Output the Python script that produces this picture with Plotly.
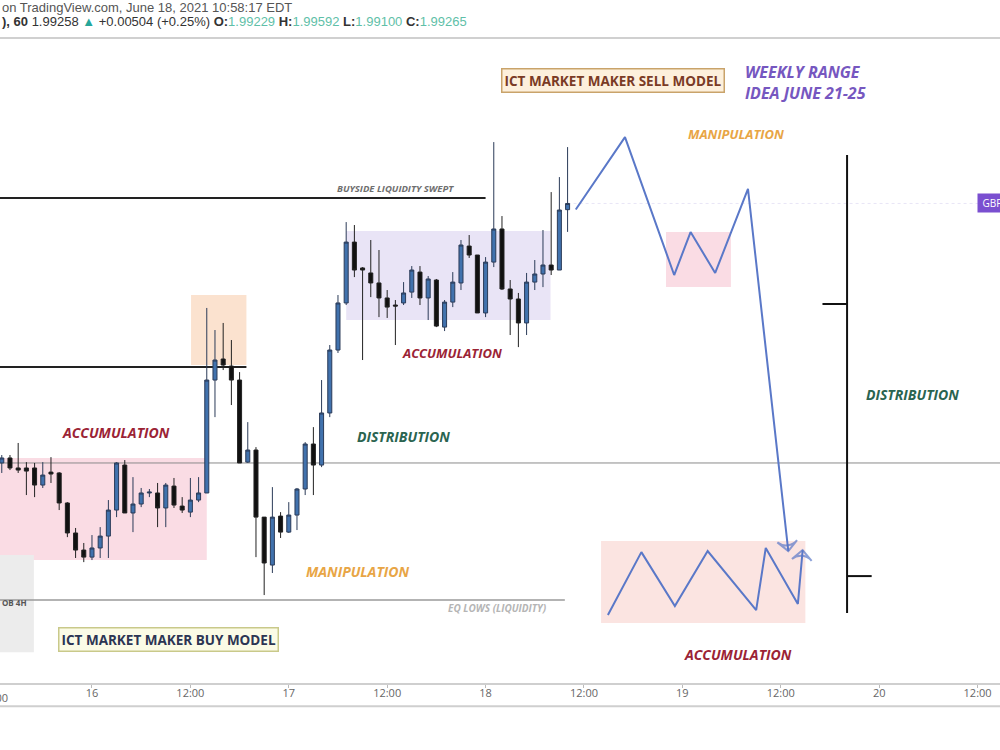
import plotly.graph_objects as go
import pandas as pd

# ---------------- data ----------------
times = pd.date_range("2021-06-15 13:00", periods=70, freq="h")

open_ = [1.97760, 1.97789, 1.97731, 1.97731, 1.97731, 1.97632, 1.97707, 1.97702, 1.97528, 1.97354,
         1.97255, 1.97214, 1.97267, 1.97336, 1.97487, 1.97748, 1.97470, 1.97522, 1.97586, 1.97586,
         1.97499, 1.97626, 1.97510, 1.97475, 1.97545, 1.97586, 1.98241, 1.98363, 1.98322, 1.98241,
         1.97765, 1.97835, 1.97446, 1.97168, 1.97452, 1.97359, 1.97458, 1.97609, 1.97870, 1.97748,
         1.98050, 1.98415, 1.98688, 1.99041, 1.98891, 1.98862, 1.98804, 1.98717, 1.98676, 1.98688,
         1.98751, 1.98867, 1.98717, 1.98821, 1.98548, 1.98693, 1.98804, 1.99018, 1.98966, 1.98630,
         1.98925, 1.99117, 1.98769, 1.98711, 1.98572, 1.98809, 1.98856, 1.98908, 1.98879, 1.99229]
high = [1.97806, 1.97806, 1.97876, 1.97765, 1.97760, 1.97765, 1.97794, 1.97707, 1.97533, 1.97383,
        1.97296, 1.97342, 1.97388, 1.97545, 1.97765, 1.97777, 1.97678, 1.97615, 1.97609, 1.97644,
        1.97644, 1.97673, 1.97562, 1.97673, 1.97678, 1.98659, 1.98531, 1.98572, 1.98473, 1.98287,
        1.97997, 1.97852, 1.97446, 1.97620, 1.97475, 1.97533, 1.97615, 1.97881, 1.97968, 1.98241,
        1.98444, 1.98734, 1.99157, 1.99140, 1.98896, 1.99053, 1.98995, 1.98763, 1.98705, 1.98809,
        1.98902, 1.98902, 1.98844, 1.98827, 1.98705, 1.98867, 1.99053, 1.99082, 1.98966, 1.98954,
        1.99621, 1.99192, 1.98821, 1.98746, 1.98862, 1.98937, 1.99111, 1.99331, 1.99418, 1.99592]
low = [1.97702, 1.97719, 1.97702, 1.97574, 1.97562, 1.97615, 1.97644, 1.97487, 1.97330, 1.97209,
       1.97185, 1.97197, 1.97209, 1.97209, 1.97446, 1.97470, 1.97359, 1.97504, 1.97562, 1.97388,
       1.97388, 1.97499, 1.97470, 1.97446, 1.97533, 1.97586, 1.98026, 1.98299, 1.98096, 1.97760,
       1.97760, 1.97214, 1.96994, 1.97122, 1.97325, 1.97354, 1.97371, 1.97574, 1.97574, 1.97736,
       1.98026, 1.98398, 1.98676, 1.98838, 1.98357, 1.98722, 1.98606, 1.98601, 1.98444, 1.98676,
       1.98717, 1.98676, 1.98589, 1.98548, 1.98525, 1.98664, 1.98763, 1.98949, 1.98630, 1.98606,
       1.98896, 1.98763, 1.98502, 1.98432, 1.98502, 1.98763, 1.98780, 1.98850, 1.98879, 1.99100]
close = [1.97789, 1.97731, 1.97719, 1.97713, 1.97632, 1.97690, 1.97696, 1.97528, 1.97354, 1.97255,
         1.97214, 1.97267, 1.97336, 1.97487, 1.97760, 1.97470, 1.97522, 1.97586, 1.97591, 1.97499,
         1.97632, 1.97516, 1.97487, 1.97545, 1.97586, 1.98241, 1.98357, 1.98328, 1.98241, 1.97760,
         1.97835, 1.97446, 1.97180, 1.97446, 1.97359, 1.97458, 1.97609, 1.97870, 1.97748, 1.98050,
         1.98415, 1.98688, 1.99041, 1.98879, 1.98879, 1.98804, 1.98717, 1.98664, 1.98670, 1.98746,
         1.98879, 1.98717, 1.98827, 1.98554, 1.98693, 1.98809, 1.99024, 1.98966, 1.98630, 1.98925,
         1.99117, 1.98769, 1.98711, 1.98572, 1.98809, 1.98856, 1.98908, 1.98879, 1.99227, 1.99265]

# zones: (start, end, bottom, top, fill)
zones = [
    ("2021-06-15 12:00", "2021-06-16 14:00", 1.97197, 1.97789, "#fadce4"),
    ("2021-06-16 12:05", "2021-06-16 18:50", 1.98328, 1.98734, "#fbe2cf"),
    ("2021-06-17 07:00", "2021-06-18 07:55", 1.98589, 1.99105, "#e9e4f6"),
    ("2021-06-18 22:00", "2021-06-19 05:55", 1.98780, 1.99099, "#fadce4"),
    ("2021-06-18 14:05", "2021-06-19 15:00", 1.96832, 1.97307, "#fbe4e1"),
    ("2021-06-15 12:00", "2021-06-15 16:55", 1.96663, 1.97226, "#ececec"),
]

# horizontal levels: (start, end, price, color, width)
levels = [
    ("2021-06-15 12:00", "2021-06-18 00:00", 1.99297, "#222222", 2),
    ("2021-06-15 12:00", "2021-06-16 18:50", 1.98316, "#222222", 2),
    ("2021-06-15 12:00", "2021-06-20 16:00", 1.97760, "#8a8a8a", 1),
    ("2021-06-15 12:00", "2021-06-18 09:40", 1.96965, "#9a9a9a", 1.5),
]

# projected path (sell model) and accumulation zigzag
proj_t = ["2021-06-18 11:00", "2021-06-18 17:00", "2021-06-18 23:00", "2021-06-19 01:00",
          "2021-06-19 04:00", "2021-06-19 08:00", "2021-06-19 12:55"]
proj_p = [1.99230, 1.99650, 1.98850, 1.99099, 1.98862, 1.99349, 1.97249]
zig_t = ["2021-06-18 14:55", "2021-06-18 19:00", "2021-06-18 23:05", "2021-06-19 03:05",
         "2021-06-19 09:00", "2021-06-19 10:10", "2021-06-19 14:05", "2021-06-19 14:40"]
zig_p = [1.96878, 1.97243, 1.96930, 1.97249, 1.96907, 1.97267, 1.96942, 1.97255]

# weekly range bar (open, high, low, close)
week_t = pd.Timestamp("2021-06-19 20:05")
week_open, week_high, week_low, week_close = 1.98682, 1.99546, 1.96890, 1.97104

tick_vals = ["2021-06-16 00:00", "2021-06-16 12:00", "2021-06-17 00:00", "2021-06-17 12:00",
             "2021-06-18 00:00", "2021-06-18 12:00", "2021-06-19 00:00", "2021-06-19 12:00",
             "2021-06-20 00:00", "2021-06-20 12:00"]
tick_text = ["16", "12:00", "17", "12:00", "18", "12:00", "19", "12:00", "20", "12:00"]

# ---------------- figure ----------------
fig = go.Figure()

fig.add_trace(go.Candlestick(
    x=times, open=open_, high=high, low=low, close=close,
    increasing=dict(fillcolor="#4172ad", line=dict(color="#2b3b58", width=1)),
    decreasing=dict(fillcolor="#111111", line=dict(color="#222222", width=1)),
    whiskerwidth=0, showlegend=False, hoverinfo="skip"))

blue = "#5a78c8"
for tt, pp in ((proj_t, proj_p), (zig_t, zig_p)):
    fig.add_trace(go.Scatter(
        x=tt, y=pp, mode="lines+markers",
        line=dict(color=blue, width=2),
        marker=dict(symbol="arrow-wide-open", size=[0] * (len(tt) - 1) + [14],
                    angleref="previous", color=blue, line=dict(color=blue, width=2)),
        showlegend=False, hoverinfo="skip"))

dt = pd.Timedelta(hours=3)
fig.add_trace(go.Scatter(
    x=[week_t, week_t, None, week_t - dt, week_t, None, week_t, week_t + dt],
    y=[week_high, week_low, None, week_open, week_open, None, week_close, week_close],
    mode="lines", line=dict(color="#111111", width=2),
    showlegend=False, hoverinfo="skip"))

shapes = []
for x0, x1, y0, y1, c in zones:
    shapes.append(dict(type="rect", xref="x", yref="y", x0=x0, x1=x1, y0=y0, y1=y1,
                       fillcolor=c, line=dict(width=0), layer="below"))
for x0, x1, y, c, w in levels:
    shapes.append(dict(type="line", xref="x", yref="y", x0=x0, x1=x1, y0=y, y1=y,
                       line=dict(color=c, width=w), layer="below"))
# faint last-price line
shapes.append(dict(type="line", xref="x", yref="y", x0=times[-1], x1="2021-06-20 16:00",
                   y0=close[-1], y1=close[-1],
                   line=dict(color="rgba(130,110,200,0.18)", width=1, dash="dot"), layer="below"))
# header separator and bottom axis border
shapes.append(dict(type="line", xref="paper", yref="paper", x0=0, x1=1, y0=1.003, y1=1.003,
                   line=dict(color="#d0d0d0", width=2)))
shapes.append(dict(type="line", xref="paper", yref="paper", x0=0, x1=1, y0=-0.036, y1=-0.036,
                   line=dict(color="#cfcfcf", width=2)))

F = "Open Sans"
red = "#9b2335"
green = "#2a6450"
orange = "#e8a545"


def lab(x, y, text, color, size=14, **kw):
    d = dict(x=x, y=y, xref="x", yref="y", text=text, showarrow=False,
             font=dict(family=F, size=size, color=color, weight="bold", style="italic"))
    d.update(kw)
    return d


annotations = [
    lab("2021-06-16 02:54", 1.97939, "ACCUMULATION", red),
    lab("2021-06-17 14:00", 1.97916, "DISTRIBUTION", green),
    lab("2021-06-17 08:24", 1.97133, "MANIPULATION", orange),
    lab("2021-06-17 19:54", 1.98398, "ACCUMULATION", red, size=13),
    lab("2021-06-19 06:30", 1.99668, "MANIPULATION", orange, size=13),
    lab("2021-06-20 04:06", 1.98160, "DISTRIBUTION", green),
    lab("2021-06-19 06:48", 1.96652, "ACCUMULATION", red),
    lab("2021-06-19 07:24", 1.99969, "WEEKLY RANGE<br>IDEA JUNE 21-25", "#7657c0", size=16,
        xanchor="left", align="left"),
    lab("2021-06-17 13:00", 1.99349, "BUYSIDE LIQUIDITY SWEPT", "#6f6f6f", size=9.5),
    lab("2021-06-18 01:24", 1.96919, "EQ LOWS (LIQUIDITY)", "#b5b5b5", size=10),
    dict(x="2021-06-15 14:36", y=1.96948, xref="x", yref="y", text="OB 4H", showarrow=False,
         font=dict(family=F, size=8, color="#555555", weight="bold")),
    dict(x="2021-06-16 09:18", y=1.96739, xref="x", yref="y", text="ICT MARKET MAKER BUY MODEL",
         showarrow=False, bgcolor="#fbfbe6", bordercolor="#c9c98a", borderwidth=1.5, borderpad=2,
         font=dict(family=F, size=13.5, color="#2c3553", weight="bold")),
    dict(x="2021-06-18 15:30", y=1.99981, xref="x", yref="y", text="ICT MARKET MAKER SELL MODEL",
         showarrow=False, bgcolor="#fdf0dc", bordercolor="#c9a36a", borderwidth=1.5, borderpad=2,
         font=dict(family=F, size=13.5, color="#7a3b25", weight="bold")),
    dict(x=0.977, y=close[-1], xref="paper", yref="y", text=" GBPNZD ", showarrow=False,
         xanchor="left", bgcolor="#7a4fd0", font=dict(family=F, size=10, color="white"),
         borderpad=2),
    dict(x=-0.006, y=-0.008, xref="paper", yref="paper", text="12:00", showarrow=False,
         xanchor="center", yanchor="top", font=dict(family=F, size=11, color="#666666")),
    dict(x=0.0, y=1.0498, xref="paper", yref="paper", xanchor="left", yanchor="middle",
         showarrow=False, text="on TradingView.com, June 18, 2021 10:58:17 EDT",
         font=dict(family="Liberation Sans", size=13, color="#555555")),
    dict(x=0.0, y=1.028, xref="paper", yref="paper", xanchor="left", yanchor="middle",
         showarrow=False,
         text=("<b>), 60</b> 1.99258 <span style='color:#26a69a'>\u25b2</span> +0.00504 (+0.25%) "
               "<b>O:</b><span style='color:#5fbfa8'>1.99229</span> "
               "<b>H:</b><span style='color:#5fbfa8'>1.99592</span> "
               "<b>L:</b><span style='color:#5fbfa8'>1.99100</span> "
               "<b>C:</b><span style='color:#5fbfa8'>1.99265</span>"),
         font=dict(family="Liberation Sans", size=13, color="#333333")),
]

fig.update_layout(
    width=1000, height=750,
    margin=dict(l=0, r=0, t=40, b=67),
    paper_bgcolor="white", plot_bgcolor="white",
    shapes=shapes, annotations=annotations,
    showlegend=False,
    xaxis=dict(type="date", range=["2021-06-15 12:47", "2021-06-20 14:44"],
               tickvals=tick_vals, ticktext=tick_text, showgrid=False, zeroline=False,
               showline=True, linecolor="#cfcfcf", linewidth=2,
               ticks="outside", ticklen=3, tickcolor="#bbbbbb", ticklabelstandoff=-4,
               tickfont=dict(family=F, size=11, color="#666666"),
               rangeslider=dict(visible=False), fixedrange=True),
    yaxis=dict(range=[1.96484, 2.00213], showgrid=False, zeroline=False,
               showticklabels=False, showline=False, fixedrange=True),
)

fig.write_html("out.html")
